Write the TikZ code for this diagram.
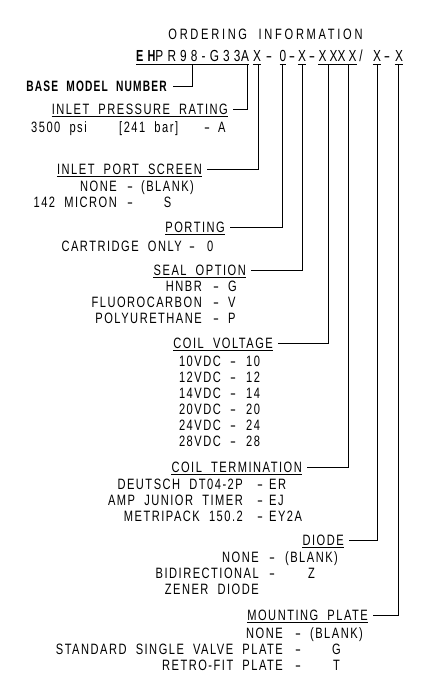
\documentclass[tikz,border=0pt]{standalone}
\usepackage{fontspec}
\setmainfont{Liberation Sans}[FakeStretch=0.74,LetterSpace=10,WordSpace=2]
\newfontfamily\boldfam{Liberation Sans}[FakeStretch=0.68,LetterSpace=8,WordSpace=2]
\newcommand{\dsh}{\scalebox{1.6}[1]{-}}
\begin{document}
\begin{tikzpicture}[x=1pt,y=-1pt,
  conn/.style={line width=0.8pt},
  ulin/.style={line width=0.7pt},
  body/.style={inner sep=0pt, font=\fontsize{15}{16}\selectfont},
  head/.style={body, anchor=east, text height=10.3pt, text depth=0pt},
  lcol/.style={body, anchor=base east},
  rcol/.style={body, anchor=base west},
  mch/.style={inner sep=0pt, anchor=base, font=\fontsize{16}{18}\selectfont\addfontfeature{LetterSpace=20}, text height=11pt, text depth=0pt},
]
\useasboundingbox (0,0) rectangle (429,696);

% title
\node[body, anchor=base, font=\fontsize{15}{16}\selectfont\addfontfeature{LetterSpace=18}] (title) at (265.5,39.5) {ORDERING INFORMATION};

% model line
\node[mch, anchor=base west, font=\fontsize{16}{18}\selectfont\addfontfeature{LetterSpace=26}] (mbase) at (136,61.5) {{\boldfam\bfseries\addfontfeature{LetterSpace=26}EH}PR98-G33};
\node[mch] (mA) at (245,61.5) {A};
\node[mch] (mS) at (257,61.5) {X};
\node[mch] (d1) at (269,61.5) {\dsh};
\node[mch] (mP) at (283,61.5) {0};
\node[mch] (d2) at (292,61.5) {\dsh};
\node[mch] (mSe) at (302,61.5) {X};
\node[mch] (d3) at (312,61.5) {\dsh};
\node[mch] (mV) at (328,61.5) {XX};
\node[mch] (mT) at (347,61.5) {XX};
\node[mch] (sl) at (361,61.5) {/};
\node[mch] (mD) at (377,61.5) {X};
\node[mch] (d4) at (387,61.5) {\dsh};
\node[mch] (mM) at (399,61.5) {X};
\foreach \n in {mbase,mA,mS,mP,mSe,mV,mT,mD,mM}
  \draw[ulin] ([yshift=-3pt]\n.south west) -- ([yshift=-3pt]\n.south east);

% connector tops
\coordinate (tBase) at (192,65);
\coordinate (tA) at (247,65);
\coordinate (tS) at (258,65);
\coordinate (tP) at (282,65);
\coordinate (tSe) at (302,65);
\coordinate (tV) at (328,65);
\coordinate (tT) at (348,65);
\coordinate (tD) at (377,65);
\coordinate (tM) at (398,65);

% headings
\node[head, font=\fontsize{15}{16}\selectfont\boldfam\bfseries] (bmn) at (167,86) {BASE MODEL NUMBER};
\node[head] (ipr) at (228,109) {INLET PRESSURE RATING};
\node[head] (ips) at (202,169) {INLET PORT SCREEN};
\node[head] (por) at (225,227) {PORTING};
\node[head] (seal) at (246,270) {SEAL OPTION};
\node[head] (cv) at (273,343) {COIL VOLTAGE};
\node[head] (ct) at (302,467) {COIL TERMINATION};
\node[head] (dio) at (344,540) {DIODE};
\node[head] (mp) at (368,615) {MOUNTING PLATE};
\foreach \n in {ipr,ips,por,seal,cv,ct,dio,mp}
  \draw[ulin] ([yshift=-2pt]\n.south west) -- ([yshift=-2pt]\n.south east);

% connectors
\draw[conn] (tBase) |- ([xshift=6pt]bmn.east);
\draw[conn] (tA) |- ([xshift=4.5pt]ipr.east);
\draw[conn] (tS) |- ([xshift=4.5pt]ips.east);
\draw[conn] (tP) |- ([xshift=4.5pt]por.east);
\draw[conn] (tSe) |- ([xshift=4.5pt]seal.east);
\draw[conn] (tV) |- ([xshift=4.5pt]cv.east);
\draw[conn] (tT) |- ([xshift=4.5pt]ct.east);
\draw[conn] (tD) |- ([xshift=4.5pt]dio.east);
\draw[conn] (tM) |- ([xshift=4.5pt]mp.east);

% options
\node[rcol] (pr1) at (31,132) {3500 psi};
\node[rcol] (pr2) at (119,132) {[241 bar]};
\node[rcol] (pr3) at (204,132) {\dsh\hspace{8pt}A};

\node[lcol] (ipsL) at (117,191) {\begin{tabular}[t]{@{}r@{}}NONE\\142 MICRON\end{tabular}};
\node[rcol] (ipsR) at (127,191) {\begin{tabular}[t]{@{}l@{\hspace{8pt}}c@{}}\dsh&(BLANK)\\\dsh&S\end{tabular}};

\node[lcol] (porL) at (182,251) {CARTRIDGE ONLY};
\node[rcol] (porR) at (189,251) {\dsh\hspace{12pt}0};

\node[lcol] (sealL) at (202,291) {\begin{tabular}[t]{@{}r@{}}HNBR\\FLUOROCARBON\\POLYURETHANE\end{tabular}};
\node[rcol] (sealR) at (213,291) {\begin{tabular}[t]{@{}l@{\hspace{9pt}}l@{}}\dsh&G\\\dsh&V\\\dsh&P\end{tabular}};

\node[lcol] (cvL) at (221,366) {\begin{tabular}[t]{@{}r@{}}10VDC\\12VDC\\14VDC\\20VDC\\24VDC\\28VDC\end{tabular}};
\node[rcol] (cvR) at (230,366) {\begin{tabular}[t]{@{}l@{\hspace{10pt}}l@{}}\dsh&10\\\dsh&12\\\dsh&14\\\dsh&20\\\dsh&24\\\dsh&28\end{tabular}};

\node[lcol] (ctL) at (243,489) {\begin{tabular}[t]{@{}r@{}}DEUTSCH DT04-2P\\AMP JUNIOR TIMER\\METRIPACK 150.2\end{tabular}};
\node[rcol] (ctR) at (257,489) {\begin{tabular}[t]{@{}l@{\hspace{6pt}}l@{}}\dsh&ER\\\dsh&EJ\\\dsh&EY2A\end{tabular}};

\node[lcol] (dioL) at (259,562) {\begin{tabular}[t]{@{}r@{}}NONE\\BIDIRECTIONAL\\ZENER DIODE\end{tabular}};
\node[rcol] (dioR) at (269,562) {\begin{tabular}[t]{@{}l@{\hspace{10pt}}c@{}}\dsh&(BLANK)\\\dsh&Z\end{tabular}};

\node[lcol] (mpL) at (283,638) {\begin{tabular}[t]{@{}r@{}}NONE\\STANDARD SINGLE VALVE PLATE\\RETRO-FIT PLATE\end{tabular}};
\node[rcol] (mpR) at (295,638) {\begin{tabular}[t]{@{}l@{\hspace{9pt}}c@{}}\dsh&(BLANK)\\\dsh&G\\\dsh&T\end{tabular}};
\end{tikzpicture}
\end{document}
